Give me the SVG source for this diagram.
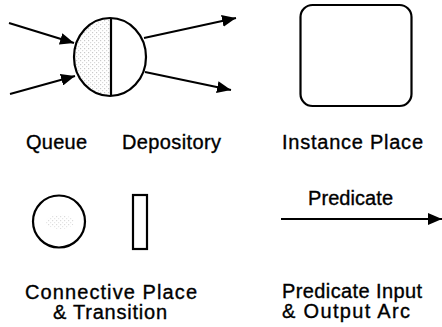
<svg xmlns="http://www.w3.org/2000/svg" width="442" height="327" viewBox="0 0 442 327">
<style>
.shape{fill:none;stroke:#000;stroke-width:2.2}
.arc{fill:none;stroke:#000;stroke-width:2}
text{font-family:"Liberation Sans",Arial,sans-serif;font-size:20px;fill:#000;stroke:#000;stroke-width:0.35}
</style>
<defs>
<marker id="ah" markerUnits="userSpaceOnUse" markerWidth="16" markerHeight="12" refX="14" refY="6" orient="auto">
<path d="M0,0 L14,6 L0,12 Z" fill="#000"/>
</marker>
<pattern id="dots" width="4" height="4" patternUnits="userSpaceOnUse">
<rect x="0" y="0" width="1.2" height="1.2" fill="#888"/>
<rect x="2" y="2" width="1.2" height="1.2" fill="#aaa"/>
</pattern>
<clipPath id="lefthalf"><rect x="70" y="15" width="41" height="85"/></clipPath>
</defs>
<g id="connectors">
<line class="arc" x1="9" y1="23" x2="74" y2="43" marker-end="url(#ah)"/>
<line class="arc" x1="10" y1="94" x2="75" y2="76" marker-end="url(#ah)"/>
<line class="arc" x1="144" y1="38" x2="236" y2="18" marker-end="url(#ah)"/>
<line class="arc" x1="145" y1="72" x2="231" y2="90" marker-end="url(#ah)"/>
<line class="arc" x1="281" y1="219" x2="442" y2="219" marker-end="url(#ah)"/>
</g>
<g id="queue-depository">
<ellipse cx="110" cy="57" rx="36" ry="39" fill="url(#dots)" opacity="0.45" clip-path="url(#lefthalf)"/>
<ellipse class="shape" cx="110" cy="57" rx="36" ry="39"/>
<line class="shape" x1="111" y1="18" x2="111" y2="96"/>
</g>
<g id="instance-place">
<rect class="shape" x="300.5" y="5" width="111" height="101" rx="12"/>
</g>
<g id="connective-place">
<ellipse cx="60" cy="222" rx="14" ry="7" fill="url(#dots)" opacity="0.3"/>
<circle class="shape" cx="59" cy="221.5" r="26"/>
</g>
<g id="transition">
<rect class="shape" x="133" y="195" width="14" height="54"/>
</g>
<g id="labels">
<text x="26" y="149" textLength="61" lengthAdjust="spacing">Queue</text>
<text x="122" y="149" textLength="99" lengthAdjust="spacing">Depository</text>
<text x="282" y="149" textLength="141" lengthAdjust="spacing">Instance Place</text>
<text x="308" y="205" textLength="85" lengthAdjust="spacing">Predicate</text>
<text x="25" y="299" textLength="172" lengthAdjust="spacing">Connective Place</text>
<text x="53" y="319" textLength="114" lengthAdjust="spacing">&amp; Transition</text>
<text x="282" y="298" textLength="140" lengthAdjust="spacing">Predicate Input</text>
<text x="282" y="318" textLength="128" lengthAdjust="spacing">&amp; Output Arc</text>
</g>
</svg>
